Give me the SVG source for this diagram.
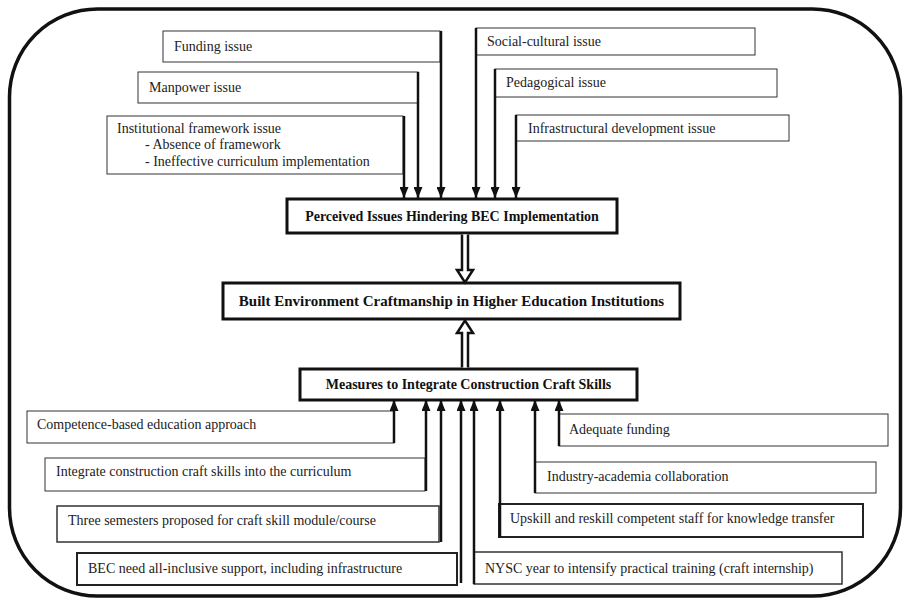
<svg xmlns="http://www.w3.org/2000/svg" width="904" height="599" viewBox="0 0 904 599">
<defs>
<marker id="ah" markerUnits="userSpaceOnUse" markerWidth="11" markerHeight="9" refX="11" refY="4.5" orient="auto">
<path d="M0,0 L11,4.5 L0,9 z" fill="#111"/>
</marker>
<style>
.box{fill:#fff;stroke:#333;stroke-width:1}
.box2{fill:#fff;stroke:#222;stroke-width:2}
.main{fill:#fff;stroke:#111;stroke-width:3}
.t{font-family:"Liberation Serif","Times New Roman",serif;font-size:14px;fill:#222}
.b{font-family:"Liberation Serif","Times New Roman",serif;font-size:14px;font-weight:bold;fill:#111;text-anchor:middle}
.conn{stroke:#111;stroke-width:2.5;fill:none;marker-end:url(#ah)}
.hollow{stroke:#111;stroke-width:2.5;fill:#fff}
</style>
</defs>
<rect x="9.5" y="9" width="891" height="587" rx="88" ry="88" fill="#fff" stroke="#111" stroke-width="3.5"/>

<g id="funding"><rect class="box" x="163" y="31" width="277" height="31"/><text class="t" x="174" y="51">Funding issue</text></g>
<g id="manpower"><rect class="box" x="138" y="72" width="280" height="31"/><text class="t" x="149" y="92">Manpower issue</text></g>
<g id="institutional"><rect class="box" x="107" y="116" width="296" height="58"/>
<text class="t" x="117" y="133">Institutional framework issue</text>
<text class="t" x="145" y="149">-  Absence of framework</text>
<text class="t" x="145" y="166">-  Ineffective curriculum implementation</text></g>
<g id="social"><rect class="box" x="476" y="28" width="279" height="27"/><text class="t" x="487" y="46">Social-cultural issue</text></g>
<g id="pedagogical"><rect class="box" x="495" y="69" width="282" height="28"/><text class="t" x="506" y="87">Pedagogical issue</text></g>
<g id="infrastructural"><rect class="box" x="516" y="115" width="273" height="26"/><text class="t" x="528" y="133">Infrastructural development issue</text></g>

<g id="perceived"><rect class="main" x="287" y="199" width="330" height="34"/><text class="b" x="452" y="221">Perceived Issues Hindering BEC Implementation</text></g>
<g id="bec-main"><rect class="main" x="223" y="283" width="457" height="36"/><text class="b" x="451.5" y="306" style="font-size:15px">Built Environment Craftmanship in Higher Education Institutions</text></g>
<g id="measures"><rect class="main" x="300" y="369" width="337" height="31"/><text class="b" x="468.5" y="389">Measures to Integrate Construction Craft Skills</text></g>

<g id="competence"><rect class="box" x="27" y="411" width="367" height="32"/><text class="t" x="37" y="429">Competence-based education approach</text></g>
<g id="integrate"><rect class="box" x="45" y="458" width="380" height="33"/><text class="t" x="56" y="476">Integrate construction craft skills into the curriculum</text></g>
<g id="three"><rect class="box" x="57" y="506" width="382" height="36" style="stroke-width:1.5"/><text class="t" x="68" y="525">Three semesters proposed for craft skill module/course</text></g>
<g id="bec-support"><rect class="box2" x="77" y="553" width="380" height="32"/><text class="t" x="88" y="573">BEC need all-inclusive support, including infrastructure</text></g>
<g id="adequate"><rect class="box" x="559" y="414" width="329" height="32"/><text class="t" x="569" y="434">Adequate funding</text></g>
<g id="industry"><rect class="box" x="535" y="462" width="341" height="31"/><text class="t" x="547" y="481">Industry-academia collaboration</text></g>
<g id="upskill"><rect class="box2" x="499" y="504" width="364" height="33"/><text class="t" x="510" y="523">Upskill and reskill competent staff for knowledge transfer</text></g>
<g id="nysc"><rect class="box" x="474" y="552" width="368" height="32" style="stroke-width:1.5"/><text class="t" x="485" y="573">NYSC year to intensify practical training (craft internship)</text></g>

<g id="connectors">
<line class="conn" x1="404" y1="116" x2="404" y2="198"/>
<line class="conn" x1="418" y1="72" x2="418" y2="198"/>
<line class="conn" x1="441" y1="31" x2="441" y2="198"/>
<line class="conn" x1="476" y1="28" x2="476" y2="198"/>
<line class="conn" x1="495" y1="69" x2="495" y2="198"/>
<line class="conn" x1="516" y1="115" x2="516" y2="198"/>

<line class="conn" x1="394" y1="443" x2="394" y2="400"/>
<line class="conn" x1="426" y1="491" x2="426" y2="400"/>
<line class="conn" x1="441" y1="542" x2="441" y2="400"/>
<line class="conn" x1="461" y1="583" x2="461" y2="400"/>
<line class="conn" x1="474" y1="584" x2="474" y2="400"/>
<line class="conn" x1="500" y1="537" x2="500" y2="400"/>
<line class="conn" x1="535" y1="493" x2="535" y2="400"/>
<line class="conn" x1="559" y1="446" x2="559" y2="400"/>

<path class="hollow" d="M462,234.5 V270 H457 L465,282.5 L473,270 H468 V234.5"/>
<path class="hollow" d="M462,367.5 V333 H457 L465,320.5 L473,333 H468 V367.5"/>
</g>
</svg>
